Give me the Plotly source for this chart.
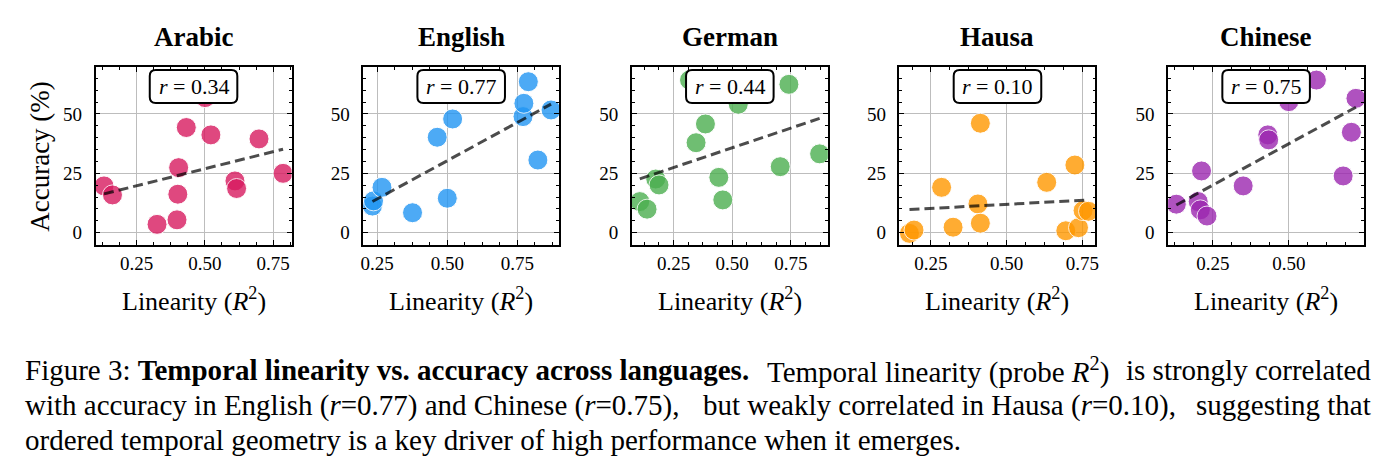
import numpy as np
import plotly.graph_objects as go

# ---------------- data ----------------
languages = ["Arabic", "English", "German", "Hausa", "Chinese"]
r_labels = ["0.34", "0.77", "0.44", "0.10", "0.75"]

arabic_x = [0.131, 0.162, 0.325, 0.398, 0.401, 0.404, 0.432, 0.501, 0.522, 0.610, 0.616, 0.698, 0.786]
arabic_y = [19.7, 15.9, 3.5, 5.4, 16.2, 27.4, 44.3, 56.9, 41.2, 21.8, 18.6, 39.5, 25.0]

english_x = [0.233, 0.237, 0.267, 0.376, 0.464, 0.500, 0.519, 0.770, 0.773, 0.789, 0.823, 0.870]
english_y = [11.2, 13.4, 19.1, 8.4, 40.2, 14.5, 47.9, 48.9, 54.5, 63.6, 30.6, 51.7]

german_x = [0.106, 0.137, 0.174, 0.188, 0.318, 0.346, 0.386, 0.443, 0.460, 0.526, 0.705, 0.742, 0.873]
german_y = [13.1, 9.9, 22.6, 20.1, 64.3, 37.9, 45.8, 23.3, 13.8, 54.1, 27.8, 62.5, 33.2]

hausa_x = [0.179, 0.194, 0.285, 0.323, 0.405, 0.413, 0.413, 0.632, 0.695, 0.725, 0.737, 0.752, 0.770]
hausa_y = [-0.3, 1.1, 19.1, 2.3, 12.1, 46.1, 4.0, 21.2, 0.8, 28.5, 2.1, 9.3, 9.0]

chinese_x = [0.130, 0.202, 0.209, 0.213, 0.231, 0.350, 0.431, 0.434, 0.500, 0.591, 0.679, 0.706, 0.721]
chinese_y = [12.0, 13.1, 9.6, 26.0, 7.0, 19.7, 41.2, 39.1, 55.2, 64.3, 23.9, 42.3, 56.6]

xs_all = [arabic_x, english_x, german_x, hausa_x, chinese_x]
ys_all = [arabic_y, english_y, german_y, hausa_y, chinese_y]

x_ticks = [0.25, 0.50, 0.75]
y_ticks = [0, 25, 50]

# caption split into chunks per line (left, middle, right) for justification
caption_chunks = [
    ["Figure 3: <b>Temporal linearity vs. accuracy across languages.</b>",
     "Temporal linearity (probe <i>R</i><sup>2</sup>)",
     "is strongly correlated"],
    ["with accuracy in English (<i>r</i>=0.77) and Chinese (<i>r</i>=0.75),",
     "but weakly correlated in Hausa (<i>r</i>=0.10),",
     "suggesting that"],
    ["ordered temporal geometry is a key driver of high performance when it emerges."],
]

# ---------------- styling / layout ----------------
W, H = 1393, 474
colors = ["#D81B60", "#2196F3", "#4CAF50", "#FF9800", "#9C27B0"]
x_ranges = [[0.100, 0.817], [0.200, 0.899], [0.072, 0.908], [0.146, 0.793], [0.103, 0.748]]
y_range = [-5.2, 69.8]
panel_left_px = [93, 362, 632, 901, 1171]
panel_w_px = 197
plot_top_px, plot_bot_px = 67, 245
SERIF = "Liberation Serif"
cap_left, cap_right = 20, 1377
cap_mid_left = [766, 702]   # left edge of middle chunk (px) for justified lines

fig = go.Figure()
annotations = []
shapes = []

for i, lang in enumerate(languages):
    n = "" if i == 0 else str(i + 1)
    xa, ya = "x" + n, "y" + n
    x0p = panel_left_px[i] / W
    x1p = (panel_left_px[i] + panel_w_px) / W
    axis_common = dict(
        showline=True, linecolor="black", linewidth=1.5, mirror="allticks",
        ticks="inside", ticklen=5, tickwidth=1, tickcolor="black",
        showgrid=True, gridcolor="#bdbdbd", gridwidth=1, zeroline=False,
        tickfont=dict(family=SERIF, size=19, color="black"),
    )
    fig.update_layout(**{
        "xaxis" + n: dict(
            domain=[x0p, x1p], range=x_ranges[i], anchor=ya,
            tickmode="array", tickvals=x_ticks, ticktext=[f"{v:.2f}" for v in x_ticks],
            minor=dict(ticks="inside", ticklen=3, tickwidth=1, tickcolor="black",
                       dtick=0.0625, tick0=0, showgrid=False),
            **axis_common),
        "yaxis" + n: dict(
            domain=[1 - plot_bot_px / H, 1 - plot_top_px / H], range=y_range, anchor=xa,
            tickmode="array", tickvals=y_ticks, ticklabelstandoff=8,
            minor=dict(ticks="inside", ticklen=3, tickwidth=1, tickcolor="black",
                       dtick=5, tick0=0, showgrid=False),
            **axis_common),
    })

    x = np.array(xs_all[i]); y = np.array(ys_all[i])
    fig.add_trace(go.Scatter(
        x=x, y=y, mode="markers", xaxis=xa, yaxis=ya, showlegend=False,
        marker=dict(size=20, color=colors[i], opacity=0.8,
                    line=dict(color="white", width=1)),
    ))
    slope, intercept = np.polyfit(x, y, 1)
    lx = np.array([x.min(), x.max()])
    fig.add_trace(go.Scatter(
        x=lx, y=slope * lx + intercept, mode="lines", xaxis=xa, yaxis=ya,
        showlegend=False, line=dict(color="rgba(0,0,0,0.7)", width=3, dash="10px,5px"),
    ))

    cx = (panel_left_px[i] + panel_w_px / 2)
    # panel title
    annotations.append(dict(
        x=cx / W, y=1 - 37 / H, xref="paper", yref="paper", showarrow=False,
        text=f"<b>{lang}</b>", font=dict(family=SERIF, size=27, color="black"),
        xanchor="center", yanchor="middle"))
    # x axis label
    annotations.append(dict(
        x=cx / W, y=1 - 299 / H, xref="paper", yref="paper", showarrow=False,
        text="Linearity (<i>R</i><sup>2</sup>)", font=dict(family=SERIF, size=26, color="black"),
        xanchor="center", yanchor="middle"))
    # r box (rounded rectangle)
    bw, bt, bb, rad = 88, 70, 103, 6
    bx0, bx1 = cx - bw / 2, cx + bw / 2
    def P(px, py):
        return f"{px / W:.6f},{1 - py / H:.6f}"
    path = (f"M {P(bx0 + rad, bt)} L {P(bx1 - rad, bt)} Q {P(bx1, bt)} {P(bx1, bt + rad)} "
            f"L {P(bx1, bb - rad)} Q {P(bx1, bb)} {P(bx1 - rad, bb)} "
            f"L {P(bx0 + rad, bb)} Q {P(bx0, bb)} {P(bx0, bb - rad)} "
            f"L {P(bx0, bt + rad)} Q {P(bx0, bt)} {P(bx0 + rad, bt)} Z")
    shapes.append(dict(type="path", path=path, xref="paper", yref="paper",
                       line=dict(color="black", width=2), fillcolor="white", layer="above"))
    annotations.append(dict(
        x=cx / W, y=1 - 87 / H, xref="paper", yref="paper", showarrow=False,
        text=f"<i>r</i> = {r_labels[i]}", font=dict(family=SERIF, size=22, color="black"),
        xanchor="center", yanchor="middle"))

# y axis label
annotations.append(dict(
    x=37 / W, y=1 - 156 / H, xref="paper", yref="paper", showarrow=False,
    text="Accuracy (%)", textangle=-90, font=dict(family=SERIF, size=27, color="black"),
    xanchor="center", yanchor="middle"))

# caption
for k, chunks in enumerate(caption_chunks):
    yk = 1 - (370 + 35 * k) / H
    cfont = dict(family=SERIF, size=29, color="black")
    if len(chunks) == 1:
        annotations.append(dict(x=cap_left / W, y=yk, xref="paper", yref="paper",
                                showarrow=False, text=chunks[0], font=cfont,
                                xanchor="left", yanchor="middle"))
    else:
        annotations.append(dict(x=cap_left / W, y=yk, xref="paper", yref="paper",
                                showarrow=False, text=chunks[0], font=cfont,
                                xanchor="left", yanchor="middle"))
        annotations.append(dict(x=cap_mid_left[k] / W, y=yk, xref="paper", yref="paper",
                                showarrow=False, text=chunks[1], font=cfont,
                                xanchor="left", yanchor="middle"))
        annotations.append(dict(x=cap_right / W, y=yk, xref="paper", yref="paper",
                                showarrow=False, text=chunks[2], font=cfont,
                                xanchor="right", yanchor="middle"))

fig.update_layout(
    width=W, height=H, margin=dict(l=0, r=0, t=0, b=0),
    paper_bgcolor="white", plot_bgcolor="white",
    annotations=annotations, shapes=shapes,
)
fig.write_html("out.html")
